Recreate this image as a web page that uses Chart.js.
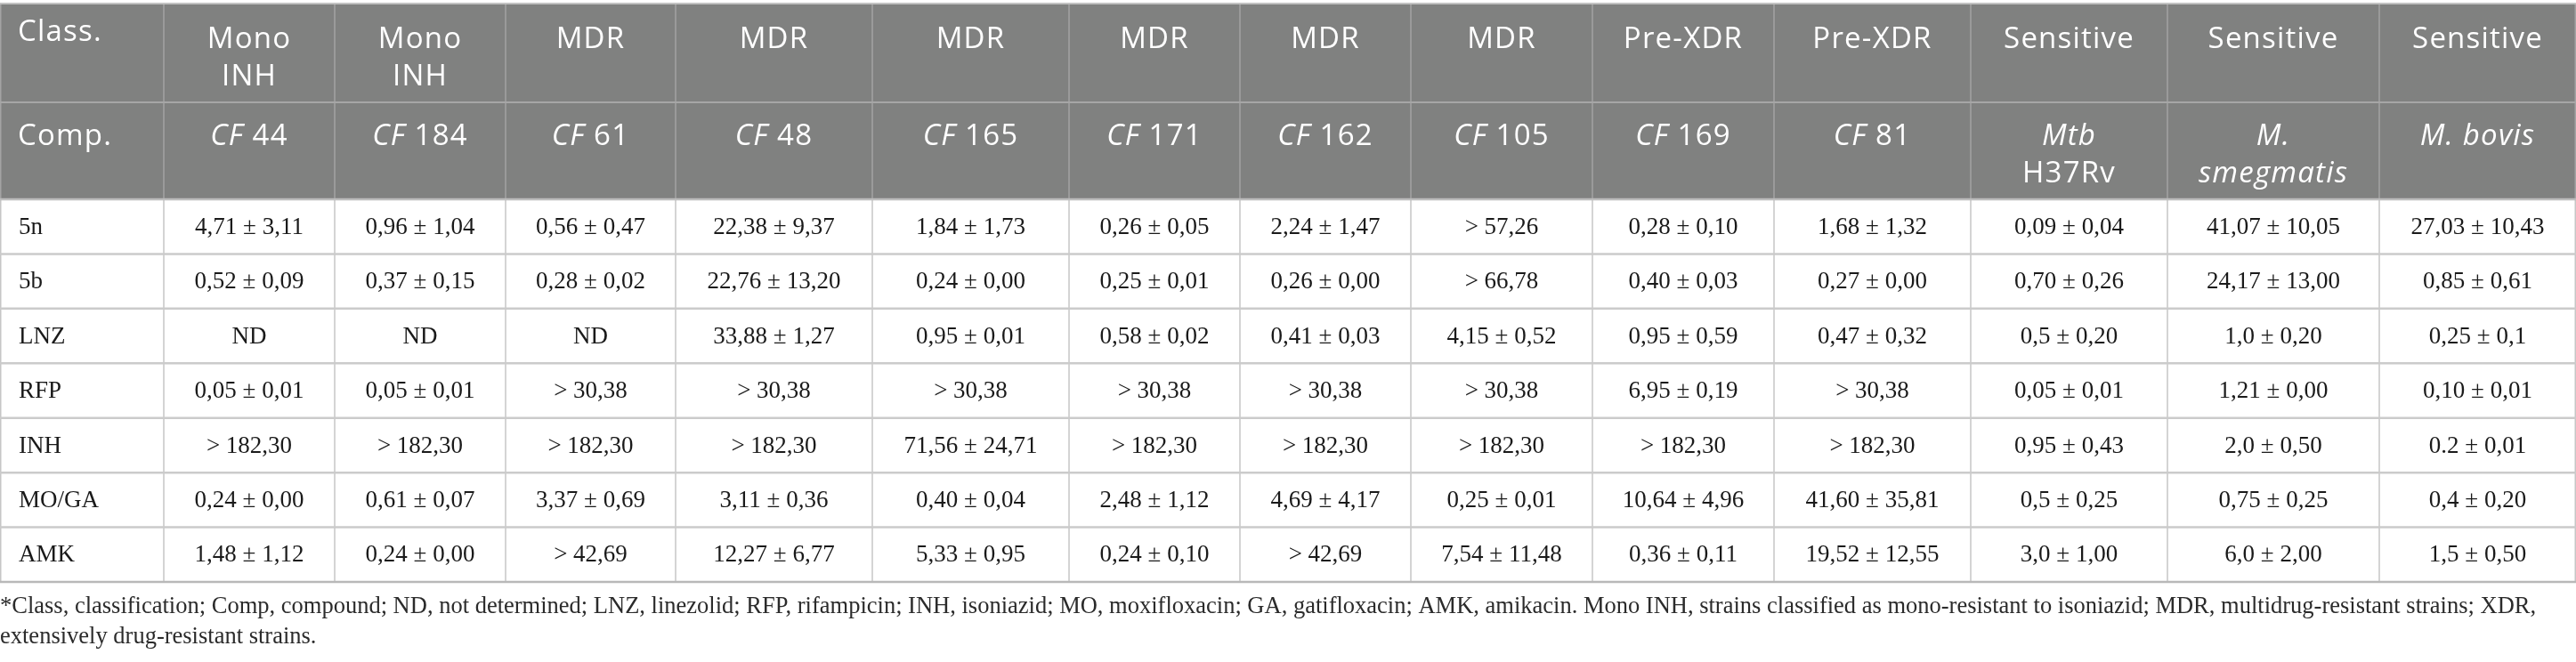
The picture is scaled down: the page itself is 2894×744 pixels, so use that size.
<!DOCTYPE html>
<html>
<head>
<meta charset="utf-8">
<script src="https://cdn.jsdelivr.net/npm/chart.js@4.4.1/dist/chart.umd.min.js"></script>
<style>
  html, body { margin: 0; padding: 0; background: #fff; }
  #wrap { width: 2894px; height: 744px; }
</style>
</head>
<body>
<div id="wrap"><canvas id="micTable" width="2894" height="744"></canvas></div>
<script>
// --- table data ---
const firstColHead = ['Class.', 'Comp.'];
const classes = ['Mono\nINH', 'Mono\nINH', 'MDR', 'MDR', 'MDR', 'MDR', 'MDR', 'MDR',
    'Pre-XDR', 'Pre-XDR', 'Sensitive', 'Sensitive', 'Sensitive'];
// *...* marks italic parts
const compounds = ['*CF* 44', '*CF* 184', '*CF* 61', '*CF* 48', '*CF* 165', '*CF* 171', '*CF* 162',
    '*CF* 105', '*CF* 169', '*CF* 81', '*Mtb*\nH37Rv', '*M.*\n*smegmatis*', '*M. bovis*'];
const drugs = ['5n', '5b', 'LNZ', 'RFP', 'INH', 'MO/GA', 'AMK'];

const mic5n = ['4,71 ± 3,11', '0,96 ± 1,04', '0,56 ± 0,47', '22,38 ± 9,37', '1,84 ± 1,73', '0,26 ± 0,05',
    '2,24 ± 1,47', '> 57,26', '0,28 ± 0,10', '1,68 ± 1,32', '0,09 ± 0,04', '41,07 ± 10,05', '27,03 ± 10,43'];
const mic5b = ['0,52 ± 0,09', '0,37 ± 0,15', '0,28 ± 0,02', '22,76 ± 13,20', '0,24 ± 0,00', '0,25 ± 0,01',
    '0,26 ± 0,00', '> 66,78', '0,40 ± 0,03', '0,27 ± 0,00', '0,70 ± 0,26', '24,17 ± 13,00', '0,85 ± 0,61'];
const micLNZ = ['ND', 'ND', 'ND', '33,88 ± 1,27', '0,95 ± 0,01', '0,58 ± 0,02',
    '0,41 ± 0,03', '4,15 ± 0,52', '0,95 ± 0,59', '0,47 ± 0,32', '0,5 ± 0,20', '1,0 ± 0,20', '0,25 ± 0,1'];
const micRFP = ['0,05 ± 0,01', '0,05 ± 0,01', '> 30,38', '> 30,38', '> 30,38', '> 30,38',
    '> 30,38', '> 30,38', '6,95 ± 0,19', '> 30,38', '0,05 ± 0,01', '1,21 ± 0,00', '0,10 ± 0,01'];
const micINH = ['> 182,30', '> 182,30', '> 182,30', '> 182,30', '71,56 ± 24,71', '> 182,30',
    '> 182,30', '> 182,30', '> 182,30', '> 182,30', '0,95 ± 0,43', '2,0 ± 0,50', '0.2 ± 0,01'];
const micMOGA = ['0,24 ± 0,00', '0,61 ± 0,07', '3,37 ± 0,69', '3,11 ± 0,36', '0,40 ± 0,04', '2,48 ± 1,12',
    '4,69 ± 4,17', '0,25 ± 0,01', '10,64 ± 4,96', '41,60 ± 35,81', '0,5 ± 0,25', '0,75 ± 0,25', '0,4 ± 0,20'];
const micAMK = ['1,48 ± 1,12', '0,24 ± 0,00', '> 42,69', '12,27 ± 6,77', '5,33 ± 0,95', '0,24 ± 0,10',
    '> 42,69', '7,54 ± 11,48', '0,36 ± 0,11', '19,52 ± 12,55', '3,0 ± 1,00', '6,0 ± 2,00', '1,5 ± 0,50'];
const micRows = [mic5n, mic5b, micLNZ, micRFP, micINH, micMOGA, micAMK];

const footnote = [
    '*Class, classification; Comp, compound; ND, not determined; LNZ, linezolid; RFP, rifampicin; INH, isoniazid; MO, moxifloxacin; GA, gatifloxacin; AMK, amikacin. Mono INH, strains classified as mono-resistant to isoniazid; MDR, multidrug-resistant strains; XDR,',
    'extensively drug-resistant strains.'
];

// --- layout (scale units) ---
const colWidths = [184, 192, 192, 191, 221, 221, 192, 192, 204, 204, 221, 221, 238, 221];
const topGap = 4;
const headHeights = [111, 109];
const bodyRowHeight = 61.43;

const colEdges = [0];
colWidths.forEach(w => colEdges.push(colEdges[colEdges.length - 1] + w));
const rowEdges = [topGap];
headHeights.forEach(h => rowEdges.push(rowEdges[rowEdges.length - 1] + h));
drugs.forEach(() => rowEdges.push(rowEdges[rowEdges.length - 1] + bodyRowHeight));
const totalW = colEdges[colEdges.length - 1];
const totalH = rowEdges[rowEdges.length - 1];

const colMid = i => (colEdges[i] + colEdges[i + 1]) / 2;
const rowMid = i => (rowEdges[i] + rowEdges[i + 1]) / 2;

const HEAD_FONT = '"Open Sans", "Noto Sans", sans-serif';
const BODY_FONT = '"Liberation Serif", "DejaVu Serif", serif';
const headSize = 33;
const headLineGap = 42;

// draws one header line, parts between * in italic, centred on cx
function drawRichLine(ctx, line, cx, y, align) {
    const parts = line.split('*').map((t, i) => ({ t, italic: i % 2 === 1 })).filter(p => p.t);
    const fontFor = p => `${p.italic ? 'italic ' : ''}400 ${headSize}px ${HEAD_FONT}`;
    let width = 0;
    parts.forEach(p => { ctx.font = fontFor(p); p.w = ctx.measureText(p.t).width; width += p.w; });
    let x = align === 'left' ? cx : cx - width / 2;
    parts.forEach(p => {
        ctx.font = fontFor(p);
        ctx.fillText(p.t, x, y);
        x += p.w;
    });
}

const tablePlugin = {
    id: 'tableCells',
    beforeDraw(chart) {
        const ctx = chart.ctx;
        ctx.save();
        ctx.fillStyle = '#ffffff';
        ctx.fillRect(0, 0, chart.width, chart.height);
        ctx.restore();
    },
    afterDatasetsDraw(chart) {
        const ctx = chart.ctx;
        const xs = chart.scales.x;
        const ys = chart.scales.y;
        const px = v => xs.getPixelForValue(v);
        const py = v => ys.getPixelForValue(v);
        const headTop = py(rowEdges[0]);
        const headBottom = py(rowEdges[2]);
        const tableBottom = py(totalH);

        ctx.save();
        // header band
        ctx.fillStyle = '#808180';
        ctx.fillRect(px(0), headTop, px(totalW) - px(0), headBottom - headTop);

        // vertical rules
        ctx.lineWidth = 1.5;
        colEdges.forEach(e => {
            const x = Math.min(Math.max(px(e), 0.75), chart.width - 0.75);
            ctx.strokeStyle = '#a3a3a3';
            ctx.beginPath(); ctx.moveTo(x, headTop); ctx.lineTo(x, headBottom); ctx.stroke();
            ctx.strokeStyle = '#c6c6c6';
            ctx.beginPath(); ctx.moveTo(x, headBottom); ctx.lineTo(x, tableBottom); ctx.stroke();
        });

        // horizontal rules
        const hLine = (y, color, w) => {
            ctx.strokeStyle = color; ctx.lineWidth = w;
            ctx.beginPath(); ctx.moveTo(px(0), y); ctx.lineTo(px(totalW), y); ctx.stroke();
        };
        hLine(headTop, '#c2c2c2', 2);
        hLine(py(rowEdges[1]), '#a6a6a6', 2);
        hLine(headBottom, '#bdbdbd', 2.5);
        for (let r = 3; r < rowEdges.length - 1; r++) hLine(py(rowEdges[r]), '#cbcbcb', 2.5);
        hLine(tableBottom, '#b8b8b8', 2.5);

        // header text
        ctx.fillStyle = '#ffffff';
        ctx.textBaseline = 'alphabetic';
        ctx.letterSpacing = '1.2px';
        drawRichLine(ctx, firstColHead[0], px(20), py(rowEdges[0] + 42), 'left');
        drawRichLine(ctx, firstColHead[1], px(20), py(rowEdges[1] + 48), 'left');
        classes.forEach((c, i) => {
            c.split('\n').forEach((line, k) => {
                drawRichLine(ctx, line, px(colMid(i + 1)), py(rowEdges[0] + 50 + k * headLineGap));
            });
        });
        compounds.forEach((c, i) => {
            c.split('\n').forEach((line, k) => {
                drawRichLine(ctx, line, px(colMid(i + 1)), py(rowEdges[1] + 48 + k * headLineGap));
            });
        });
        ctx.letterSpacing = '0px';

        // body: row labels and cell values at the dataset element positions
        ctx.fillStyle = '#1a1a1a';
        ctx.font = `27px ${BODY_FONT}`;
        ctx.textBaseline = 'middle';
        chart.data.datasets.forEach((ds, r) => {
            const meta = chart.getDatasetMeta(r);
            ctx.textAlign = 'left';
            ctx.fillText(drugs[r], px(21), py(rowMid(r + 2)) + 1);
            ctx.textAlign = 'center';
            meta.data.forEach((el, i) => {
                ctx.fillText(ds.data[i].label, el.x, el.y + 1);
            });
        });
        ctx.restore();
    }
};

new Chart(document.getElementById('micTable'), {
    type: 'scatter',
    data: {
        datasets: drugs.map((d, r) => ({
            label: d,
            data: micRows[r].map((v, i) => ({ x: colMid(i + 1), y: rowMid(r + 2), label: v })),
            pointRadius: 0,
            pointHoverRadius: 0
        }))
    },
    options: {
        responsive: false,
        animation: false,
        devicePixelRatio: 1,
        layout: { padding: 0 },
        events: [],
        scales: {
            x: { type: 'linear', min: 0, max: totalW, display: false },
            y: { type: 'linear', min: 0, max: totalH, reverse: true, display: false }
        },
        plugins: {
            legend: { display: false },
            tooltip: { enabled: false },
            title: {
                display: true,
                position: 'bottom',
                align: 'start',
                text: footnote,
                color: '#2b2b2b',
                font: { family: BODY_FONT, size: 26.5, weight: 'normal', lineHeight: 34 / 26.5 },
                padding: { top: 11, bottom: 11 }
            }
        }
    },
    plugins: [tablePlugin]
});
</script>
</body>
</html>
